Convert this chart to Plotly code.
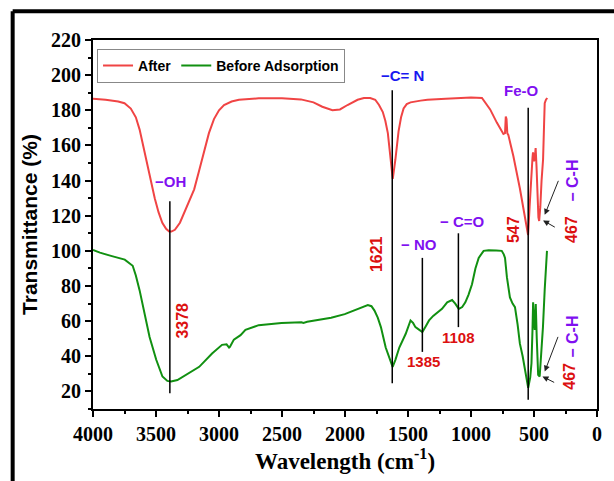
import plotly.graph_objects as go

# ---------------- data ----------------
after_wn = [4000, 3900, 3800, 3750, 3700, 3660, 3630, 3600, 3565, 3530, 3510, 3480, 3450, 3420,
            3395, 3378, 3350, 3310, 3275, 3240, 3197, 3160, 3118, 3080, 3040, 3000, 2960, 2900,
            2842, 2750, 2685, 2500, 2350, 2250, 2180, 2100, 2040, 1980, 1900, 1850, 1800, 1760,
            1730, 1700, 1680, 1660, 1640, 1621, 1600, 1575, 1555, 1535, 1510, 1480, 1400, 1346,
            1200, 1110, 1000, 913, 848, 795, 743, 730, 724, 718, 712, 704, 664, 612, 573, 547,
            535, 525, 512, 508, 500, 494, 487, 480, 472, 465, 459, 450, 440, 428, 420, 415, 405, 395]
after_t = [186.5, 186, 185, 184, 181, 176, 169, 159, 147, 136, 130, 122, 116, 112.5,
           111, 111, 112, 116, 122, 128, 135, 145, 157, 167, 175, 180, 183, 185,
           186, 186.5, 186.8, 186.8, 186.2, 184.5, 182, 180, 180.5, 183, 186, 187, 187, 186,
           183, 179, 174, 167, 155, 141, 152, 168, 176, 181, 183.5, 184.5, 185.5, 186,
           186.5, 187, 187.3, 187, 180.5, 173, 166.5, 167, 176.5, 175, 167, 166, 154, 135.5, 120.5, 109,
           125, 140, 153, 156, 151, 153, 158.5, 148, 128, 119, 117, 125, 140, 152, 172, 184, 186, 187]

before_wn = [4000, 3945, 3850, 3748, 3685, 3660, 3630, 3590, 3551, 3498, 3449, 3410, 3380, 3330,
             3262, 3157, 3055, 2976, 2940, 2920, 2913, 2900, 2882, 2829, 2790, 2685, 2504, 2346,
             2330, 2300, 2110, 2002, 1898, 1819, 1790, 1766, 1740, 1715, 1677, 1645, 1622, 1600,
             1569, 1518, 1495, 1480, 1460, 1441, 1410, 1386, 1360, 1333, 1300, 1268, 1230, 1189,
             1150, 1125, 1097, 1070, 1045, 1020, 992, 965, 939, 900, 860, 800, 756, 740, 730, 715,
             691, 670, 651, 630, 612, 590, 572, 556, 546, 530, 520, 512, 507, 500, 494, 490, 486,
             478, 467, 455, 442, 429, 415, 397]
before_t = [100.5, 99, 97, 95, 91.5, 86, 77.5, 64, 51, 38, 28.5, 26, 25.6, 26.5,
            29.4, 34, 41.6, 46.5, 46.8, 45, 45.4, 47.5, 49.5, 52, 55, 57.7, 59, 59.4,
            59, 59.6, 61.9, 64, 67, 69.2, 68.5, 66, 62, 56.6, 45, 38, 34, 38,
            45, 52.8, 58, 60.4, 59, 56.6, 55, 53.8, 57, 60.4, 63, 65, 67, 70.7,
            72, 70, 67, 68, 70.7, 75, 81, 90, 96, 100, 100.3, 100.2, 100, 98, 96, 85,
            73.5, 70, 68, 58, 47.2, 40, 32, 25, 22, 28, 36, 55, 70.7, 60, 55, 62, 69.7,
            50, 29.4, 28.5, 40, 56.6, 78, 100]

series_names = ["After", "Before Adsorption"]
series_colors = ["#F04444", "#119011"]

# vertical band marker lines: wavenumber, bottom, top
band_x = [3390, 1625, 1386, 1100, 546]
band_lo = [19, 24.7, 42.5, 56.6, 15.3]
band_hi = [128.3, 191.4, 96, 110, 181.5]

# labels: text, x, y, colour key, angle
labels = [
    ("−OH", 3385, 139.5, "p", 0),
    ("3378", 3291, 60.5, "r", -90),
    ("−C= N", 1543, 200, "b", 0),
    ("1621", 1748, 98, "r", -90),
    ("− NO", 1412, 103.5, "p", 0),
    ("1385", 1378, 37, "r", 0),
    ("− C=O", 1071, 116.7, "p", 0),
    ("1108", 1097, 50.6, "r", 0),
    ("Fe-O", 598, 191, "p", 0),
    ("547", 664, 112, "r", -90),
    ("− C-H", 197, 140, "p", -90),
    ("467", 197, 112, "r", -90),
    ("− C-H", 192, 51, "p", -90),
    ("467", 220, 28.5, "r", -90),
]
# arrows: tail x, tail y, head x, head y
arrows = [
    (302, 140.7, 415, 120.5),
    (323, 113, 428, 117.3),
    (305, 51.9, 415, 31.3),
    (328, 24.7, 433, 28.5),
]

x_ticks = [4000, 3500, 3000, 2500, 2000, 1500, 1000, 500, 0]
y_ticks = [20, 40, 60, 80, 100, 120, 140, 160, 180, 200, 220]

# ---------------- figure ----------------
label_colors = {"r": "#DC1010", "p": "#8010F0", "b": "#1818F0"}
sans = "Arial, Liberation Sans, sans-serif"
serif = "Times New Roman, Liberation Serif, serif"

fig = go.Figure()
fig.add_trace(go.Scatter(x=after_wn, y=after_t, mode="lines", name=series_names[0],
                         line=dict(color=series_colors[0], width=2)))
fig.add_trace(go.Scatter(x=before_wn, y=before_t, mode="lines", name=series_names[1],
                         line=dict(color=series_colors[1], width=2)))

for bx, lo, hi in zip(band_x, band_lo, band_hi):
    fig.add_shape(type="line", xref="x", yref="y", x0=bx, x1=bx, y0=lo, y1=hi,
                  line=dict(color="black", width=1.5))

for txt, lx, ly, ck, ang in labels:
    size = 16 if ang != 0 else 15
    fig.add_annotation(x=lx, y=ly, xref="x", yref="y", text=txt, showarrow=False,
                       textangle=ang,
                       font=dict(family=sans, size=size, color=label_colors[ck], weight="bold"))

for tx, ty, hx, hy in arrows:
    fig.add_annotation(x=hx, y=hy, ax=tx, ay=ty, xref="x", yref="y", axref="x", ayref="y",
                       text="", showarrow=True, arrowhead=2, arrowsize=1.2, arrowwidth=1,
                       arrowcolor="#222")

# outer frame (left and top)
fig.add_shape(type="line", xref="paper", yref="paper", x0=-0.1594, x1=-0.1594, y0=-0.25, y1=1.078,
              line=dict(color="black", width=4))
fig.add_shape(type="line", xref="paper", yref="paper", x0=-0.1594, x1=1.1, y0=1.078, y1=1.078,
              line=dict(color="black", width=4))

fig.update_layout(
    width=614, height=481,
    margin=dict(l=93, r=13, t=40, b=69),
    paper_bgcolor="white", plot_bgcolor="white",
    showlegend=True,
    legend=dict(x=0.008, y=0.976, xanchor="left", yanchor="top", orientation="h",
                bgcolor="white", bordercolor="#888", borderwidth=1,
                font=dict(family=sans, size=14, color="black", weight="bold"),
                itemwidth=30, tracegroupgap=0),
)
fig.update_xaxes(range=[4000, 0], tickmode="array", tickvals=x_ticks,
                 ticktext=[str(v) for v in x_ticks],
                 showgrid=False, zeroline=False, showline=True, linecolor="black", linewidth=2,
                 mirror=True, ticks="outside", ticklen=6, tickwidth=2, tickcolor="black",
                 minor=dict(dtick=250, tick0=0, ticks="outside", ticklen=3, tickwidth=2,
                            tickcolor="black", showgrid=False),
                 tickfont=dict(family=serif, size=20, color="black", weight="bold"),
                 title=dict(text="Wavelength (cm<sup>-1</sup>)", standoff=8,
                            font=dict(family=serif, size=23, color="black", weight="bold")))
fig.update_yaxes(range=[10, 220], tickmode="array", tickvals=y_ticks,
                 ticktext=[str(v) for v in y_ticks],
                 showgrid=False, zeroline=False, showline=True, linecolor="black", linewidth=2,
                 mirror=True, ticks="outside", ticklen=6, tickwidth=2, tickcolor="black",
                 minor=dict(dtick=10, tick0=0, ticks="outside", ticklen=3, tickwidth=2,
                            tickcolor="black", showgrid=False),
                 tickfont=dict(family=serif, size=20, color="black", weight="bold"),
                 title=dict(text="Transmittance (%)", standoff=8,
                            font=dict(family=sans, size=21, color="black", weight="bold")))

fig.write_html("out.html")
